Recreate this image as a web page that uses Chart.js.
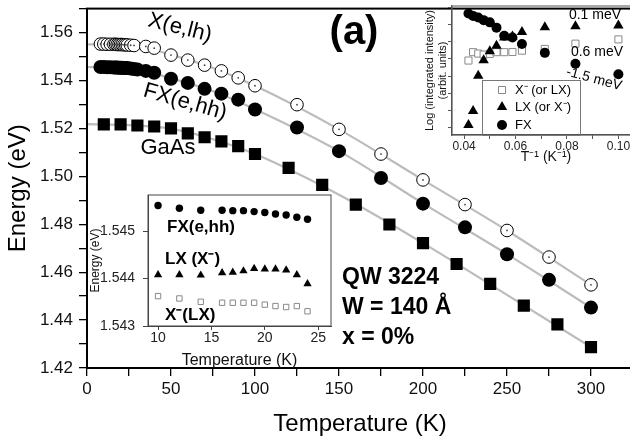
<!DOCTYPE html>
<html>
<head>
<meta charset="utf-8">
<script src="https://cdn.jsdelivr.net/npm/chart.js@4.4.0/dist/chart.umd.min.js"></script>
<style>
  html, body { margin: 0; padding: 0; background: #fff; }
  #wrap { position: relative; width: 630px; height: 442px; overflow: hidden; }
  canvas { position: absolute; }
  #mainChart { left: 0; top: 0; }
  #intensityChart { left: 380px; top: 0; }
  #lowTChart { left: 88px; top: 188px; }
</style>
</head>
<body>
<div id="wrap">
  <canvas id="mainChart" width="650" height="442"></canvas>
  <canvas id="intensityChart" width="270" height="185"></canvas>
  <canvas id="lowTChart" width="250" height="182"></canvas>
</div>
<script>
// main panel: peak energy (eV) vs temperature (K)
const tempXlh = [8, 10, 12, 14, 16, 17, 18, 19, 20, 21, 22, 23, 24, 26, 28, 35, 40, 50, 60, 70, 80, 90, 100, 125, 150, 175, 200, 225, 250, 275, 300];
const energyXlh = [1.5552, 1.5552, 1.5551, 1.5551, 1.5551, 1.5551, 1.5550, 1.5550, 1.5550, 1.5550, 1.5549, 1.5549, 1.5548, 1.5547, 1.5546, 1.5542, 1.5535, 1.5506, 1.5485, 1.5464, 1.5440, 1.5411, 1.5378, 1.5299, 1.5196, 1.5093, 1.4985, 1.4882, 1.4774, 1.4663, 1.4547];
const tempFX = [8, 10, 12, 14, 16, 17, 18, 19, 20, 21, 22, 23, 24, 26, 28, 30, 35, 40, 50, 60, 70, 80, 90, 100, 125, 150, 175, 200, 225, 250, 275, 300];
const energyFX = [1.5456, 1.5456, 1.5455, 1.5455, 1.5454, 1.5454, 1.5454, 1.5453, 1.5453, 1.5453, 1.5452, 1.5452, 1.5452, 1.5450, 1.5448, 1.5446, 1.5440, 1.5432, 1.5407, 1.5390, 1.5365, 1.5345, 1.5320, 1.5279, 1.5204, 1.5105, 1.4993, 1.4886, 1.4787, 1.4675, 1.4568, 1.4452];
const tempGaAs = [10, 20, 30, 40, 50, 60, 70, 80, 90, 100, 120, 140, 160, 180, 200, 220, 240, 260, 280, 300];
const energyGaAs = [1.5217, 1.5217, 1.5212, 1.5208, 1.5200, 1.5179, 1.5163, 1.5146, 1.5126, 1.5093, 1.5035, 1.4964, 1.4882, 1.4799, 1.4721, 1.4634, 1.4551, 1.4460, 1.4382, 1.4287];

// grey fit curves
const fitTemps = [0, 25, 50, 75, 100, 150, 200, 250, 300];
const fitXlh = [1.5551, 1.5547, 1.5508, 1.5452, 1.5378, 1.5196, 1.4985, 1.4774, 1.4547];
const fitFX = [1.5456, 1.5451, 1.5409, 1.5355, 1.5280, 1.5105, 1.4887, 1.4675, 1.4452];
const fitGaAs = [1.5218, 1.5214, 1.5199, 1.5155, 1.5093, 1.4923, 1.4721, 1.4505, 1.4287];

const tempTicks = [0, 50, 100, 150, 200, 250, 300];
const energyTicks = [1.42, 1.44, 1.46, 1.48, 1.50, 1.52, 1.54, 1.56];

// top-right inset: log integrated intensity vs 1/T
const invTemp = [0.0417, 0.0435, 0.0455, 0.0476, 0.0500, 0.0526, 0.0556, 0.0588, 0.0625, 0.0714, 0.0833, 0.1000];
const logIntXminus = [3.91, 4.40, 4.32, 4.26, 4.30, 4.40, 4.40, 4.41, 4.49, 4.59, 4.90, 5.15];
const logIntLX = [0.12, 0.95, 3.01, 3.93, 4.45, 4.78, 5.26, 5.32, 5.59, 5.86, 5.92, 5.96];
const logIntFX = [6.67, 6.53, 6.44, 6.28, 6.15, 5.84, 5.36, 5.26, 4.88, 4.36, 3.72, 3.10];
const invTempTicks = [0.04, 0.06, 0.08, 0.10];

// bottom-left inset: low temperature energies
const lowTemps = [10, 12, 14, 16, 17, 18, 19, 20, 21, 22, 23, 24];
const lowFX = [1.54554, 1.54548, 1.54544, 1.54544, 1.54543, 1.54543, 1.54541, 1.54539, 1.54536, 1.54534, 1.54529, 1.54525];
const lowLX = [1.54408, 1.54408, 1.54407, 1.54412, 1.54413, 1.54416, 1.54421, 1.54420, 1.54420, 1.54418, 1.54408, 1.54389];
const lowXminus = [1.54363, 1.54358, 1.54351, 1.54349, 1.54349, 1.54349, 1.54349, 1.54345, 1.54342, 1.54340, 1.54342, 1.54331];
const lowTempTicks = [10, 15, 20, 25];
const lowEnergyTicks = [1.543, 1.544, 1.545];

Chart.defaults.font.family = "'Liberation Sans', Arial, sans-serif";
Chart.defaults.color = '#111';

const pts = (xs, ys) => xs.map((x, i) => ({ x: x, y: ys[i] }));
const onTick = (list, v, eps) => list.some(t => Math.abs(t - v) < eps);

// fixed axis box sizes, no extra label padding
const fixX = h => s => { s.height = h; s.paddingLeft = 0; s.paddingRight = 0; };
const fixY = w => s => { s.width = w; s.paddingTop = 0; s.paddingBottom = 0; };

const frameBox = {
  id: 'frameBox',
  afterDraw(chart, args, opts) {
    const { ctx, chartArea: a } = chart;
    ctx.save();
    ctx.strokeStyle = opts.color || '#000';
    ctx.lineWidth = opts.width || 1;
    ctx.strokeRect(a.left, a.top, a.right - a.left, a.bottom - a.top);
    ctx.restore();
  }
};

function notes(items) {
  return {
    id: 'notes',
    afterDraw(chart) {
      const ctx = chart.ctx;
      items.forEach(t => {
        ctx.save();
        ctx.translate(t.x, t.y);
        if (t.rot) ctx.rotate(t.rot * Math.PI / 180);
        ctx.font = t.font;
        ctx.fillStyle = '#000';
        ctx.textAlign = t.align || 'center';
        ctx.textBaseline = 'middle';
        ctx.fillText(t.text, 0, 0);
        ctx.restore();
      });
    }
  };
}

const base = {
  responsive: false,
  animation: false,
  events: [],
  plugins: { legend: { display: false }, tooltip: { enabled: false } }
};

// ---- main chart ----
new Chart(document.getElementById('mainChart'), {
  type: 'scatter',
  data: {
    datasets: [
      { data: pts(tempXlh, energyXlh), pointRadius: 0.9, pointBackgroundColor: '#444', pointBorderWidth: 0, order: 0 },
      { data: pts(tempXlh, energyXlh), pointRadius: 6.3, pointBackgroundColor: '#fff', pointBorderColor: '#000', pointBorderWidth: 1, order: 1 },
      { data: pts(tempFX, energyFX), pointRadius: 7, pointBackgroundColor: '#000', pointBorderColor: '#000', pointBorderWidth: 0, order: 1 },
      { data: pts(tempGaAs, energyGaAs), pointStyle: 'rect', pointRadius: 8.6, pointBackgroundColor: '#000', pointBorderColor: '#000', pointBorderWidth: 0, order: 1 },
      { data: pts(fitTemps, fitXlh), showLine: true, pointRadius: 0, borderColor: '#bcbcbc', borderWidth: 2.2, cubicInterpolationMode: 'monotone', order: 3 },
      { data: pts(fitTemps, fitFX), showLine: true, pointRadius: 0, borderColor: '#bcbcbc', borderWidth: 2.2, cubicInterpolationMode: 'monotone', order: 3 },
      { data: pts(fitTemps, fitGaAs), showLine: true, pointRadius: 0, borderColor: '#bcbcbc', borderWidth: 2.2, cubicInterpolationMode: 'monotone', order: 3 }
    ]
  },
  options: Object.assign({}, base, {
    layout: { padding: { top: 5, right: 17, left: 0, bottom: 0 } },
    scales: {
      x: {
        type: 'linear', min: 0, max: 325,
        afterFit: fixX(74),
        grid: { drawOnChartArea: false, tickLength: 8, color: '#000', lineWidth: 1.3 },
        border: { color: '#000', width: 2 },
        ticks: { stepSize: 25, padding: 3, maxRotation: 0, autoSkip: false, font: { size: 17 }, color: '#111',
          callback: v => onTick(tempTicks, v, 1e-6) ? String(v) : '' },
        title: { display: true, text: 'Temperature (K)', font: { size: 24 }, color: '#000', padding: { top: 0, bottom: 3 } }
      },
      y: {
        type: 'linear', min: 1.42, max: 1.57,
        afterFit: fixY(87),
        grid: { drawOnChartArea: false, tickLength: 8, color: '#000', lineWidth: 1.3 },
        border: { color: '#000', width: 2 },
        ticks: { stepSize: 0.01, padding: 6, autoSkip: false, font: { size: 17 }, color: '#111',
          callback: v => onTick(energyTicks, v, 1e-6) ? v.toFixed(2) : '' },
        title: { display: true, text: 'Energy (eV)', font: { size: 24 }, color: '#000', padding: { top: 4, bottom: 0 } }
      }
    },
    plugins: Object.assign({}, base.plugins, { frameBox: { color: '#000', width: 2 } })
  }),
  plugins: [frameBox, notes([
    { text: '(a)', x: 354, y: 33, font: 'bold 40px "Liberation Sans", Arial' },
    { text: 'X(e,lh)', x: 180, y: 28, rot: 14, font: '22px "Liberation Sans", Arial' },
    { text: 'FX(e,hh)', x: 185, y: 102, rot: 16, font: '22px "Liberation Sans", Arial' },
    { text: 'GaAs', x: 168, y: 148, font: '22px "Liberation Sans", Arial' },
    { text: 'QW 3224', x: 342, y: 278, align: 'left', font: 'bold 23px "Liberation Sans", Arial' },
    { text: 'W = 140 Å', x: 342, y: 308, align: 'left', font: 'bold 23px "Liberation Sans", Arial' },
    { text: 'x = 0%', x: 342, y: 338, align: 'left', font: 'bold 23px "Liberation Sans", Arial' }
  ])]
});

// ---- top-right inset ----
const insetLegend = {
  id: 'insetLegend',
  afterDraw(chart) {
    const ctx = chart.ctx;
    ctx.save();
    ctx.strokeStyle = '#777';
    ctx.lineWidth = 1;
    ctx.strokeRect(102.5, 80.5, 98, 55);
    const rows = [
      { y: 90, label: 'X\u207B (or LX)', kind: 'sq' },
      { y: 107, label: 'LX (or X\u207B)', kind: 'tri' },
      { y: 125, label: 'FX', kind: 'dot' }
    ];
    rows.forEach(r => {
      const mx = 122;
      ctx.beginPath();
      if (r.kind === 'sq') {
        ctx.strokeStyle = '#888';
        ctx.fillStyle = '#fff';
        ctx.rect(mx - 3.5, r.y - 3.5, 7, 7);
        ctx.fill();
        ctx.stroke();
      } else if (r.kind === 'tri') {
        ctx.fillStyle = '#000';
        ctx.moveTo(mx, r.y - 6);
        ctx.lineTo(mx + 5.2, r.y + 3);
        ctx.lineTo(mx - 5.2, r.y + 3);
        ctx.closePath();
        ctx.fill();
      } else {
        ctx.fillStyle = '#000';
        ctx.arc(mx, r.y, 5, 0, Math.PI * 2);
        ctx.fill();
      }
      ctx.fillStyle = '#000';
      ctx.font = '13px "Liberation Sans", Arial';
      ctx.textAlign = 'left';
      ctx.textBaseline = 'middle';
      ctx.fillText(r.label, 135, r.y);
    });
    ctx.restore();
  }
};

new Chart(document.getElementById('intensityChart'), {
  type: 'scatter',
  data: {
    datasets: [
      { data: pts(invTemp, logIntFX), pointRadius: 5, pointBackgroundColor: '#000', pointBorderWidth: 0 },
      { data: pts(invTemp, logIntLX), pointStyle: 'triangle', pointRadius: 6, pointBackgroundColor: '#000', pointBorderWidth: 0 },
      { data: pts(invTemp, logIntXminus), pointStyle: 'rect', pointRadius: 5, pointBackgroundColor: '#fff', pointBorderColor: '#888', pointBorderWidth: 1 }
    ]
  },
  options: Object.assign({}, base, {
    layout: { padding: { top: 4, right: 10, left: 0, bottom: 0 } },
    scales: {
      x: {
        type: 'linear', min: 0.0353, max: 0.1084,
        afterFit: fixX(50),
        grid: { drawOnChartArea: false, tickLength: 4, color: '#555' },
        border: { color: '#555', width: 1.2 },
        ticks: { stepSize: 0.01, includeBounds: false, padding: 0, maxRotation: 0, autoSkip: false, font: { size: 12 }, color: '#222',
          callback: v => onTick(invTempTicks, v, 1e-6) ? v.toFixed(2) : '' },
        title: { display: true, text: 'T\u207B\u00B9 (K\u207B\u00B9)', font: { size: 14 }, color: '#111', padding: { top: 0, bottom: 19 } }
      },
      y: {
        type: 'linear', min: -0.46, max: 7.11,
        afterFit: fixY(72),
        grid: { drawOnChartArea: false, tickLength: 4, color: '#555' },
        border: { color: '#555', width: 1.2 },
        ticks: { stepSize: 1, includeBounds: false, autoSkip: false, callback: () => '' },
        title: { display: true, text: ['Log (integrated intensity)', '(arbit. units)'], font: { size: 11 }, color: '#111', padding: { top: 43, bottom: 0 } }
      }
    },
    plugins: Object.assign({}, base.plugins, { frameBox: { color: '#555', width: 1 } })
  }),
  plugins: [frameBox, insetLegend, notes([
    { text: '0.1 meV', x: 215, y: 15, font: '14px "Liberation Sans", Arial' },
    { text: '0.6 meV', x: 217, y: 52, font: '14px "Liberation Sans", Arial' },
    { text: '-1.5 meV', x: 214, y: 79, rot: 15, font: '14px "Liberation Sans", Arial' }
  ])]
});

// ---- bottom-left inset ----
new Chart(document.getElementById('lowTChart'), {
  type: 'scatter',
  data: {
    datasets: [
      { data: pts(lowTemps, lowFX), pointRadius: 3.7, pointBackgroundColor: '#000', pointBorderWidth: 0 },
      { data: pts(lowTemps, lowLX), pointStyle: 'triangle', pointRadius: 4.8, pointBackgroundColor: '#000', pointBorderWidth: 0 },
      { data: pts(lowTemps, lowXminus), pointStyle: 'rect', pointRadius: 3.8, pointBackgroundColor: '#fff', pointBorderColor: '#888', pointBorderWidth: 1 }
    ]
  },
  options: Object.assign({}, base, {
    layout: { padding: { top: 7, right: 7, left: 0, bottom: 0 } },
    scales: {
      x: {
        type: 'linear', min: 9.06, max: 26.2,
        afterFit: fixX(44),
        grid: { drawOnChartArea: false, tickLength: 4, color: '#444' },
        border: { color: '#444', width: 1 },
        ticks: { stepSize: 5, includeBounds: false, padding: 0, maxRotation: 0, autoSkip: false, font: { size: 14 }, color: '#222',
          callback: v => onTick(lowTempTicks, v, 1e-6) ? String(v) : '' },
        title: { display: true, text: 'Temperature (K)', font: { size: 16 }, color: '#111', padding: { top: 0, bottom: 0 } }
      },
      y: {
        type: 'linear', min: 1.543, max: 1.54576,
        afterFit: fixY(60),
        grid: { drawOnChartArea: false, tickLength: 5, color: '#444' },
        border: { color: '#444', width: 1 },
        ticks: { stepSize: 0.001, includeBounds: false, padding: 8, autoSkip: false, font: { size: 14 }, color: '#222',
          callback: v => onTick(lowEnergyTicks, v, 1e-7) ? v.toFixed(3) : '' },
        title: { display: true, text: 'Energy (eV)', font: { size: 12 }, color: '#111', padding: { top: 0, bottom: 0 } }
      }
    },
    plugins: Object.assign({}, base.plugins, { frameBox: { color: '#444', width: 1 } })
  }),
  plugins: [frameBox, notes([
    { text: 'FX(e,hh)', x: 79, y: 39, align: 'left', font: 'bold 17px "Liberation Sans", Arial' },
    { text: 'LX (X\u207B)', x: 77, y: 71, align: 'left', font: 'bold 17px "Liberation Sans", Arial' },
    { text: 'X\u207B(LX)', x: 77, y: 127, align: 'left', font: 'bold 17px "Liberation Sans", Arial' }
  ])]
});
</script>
</body>
</html>
